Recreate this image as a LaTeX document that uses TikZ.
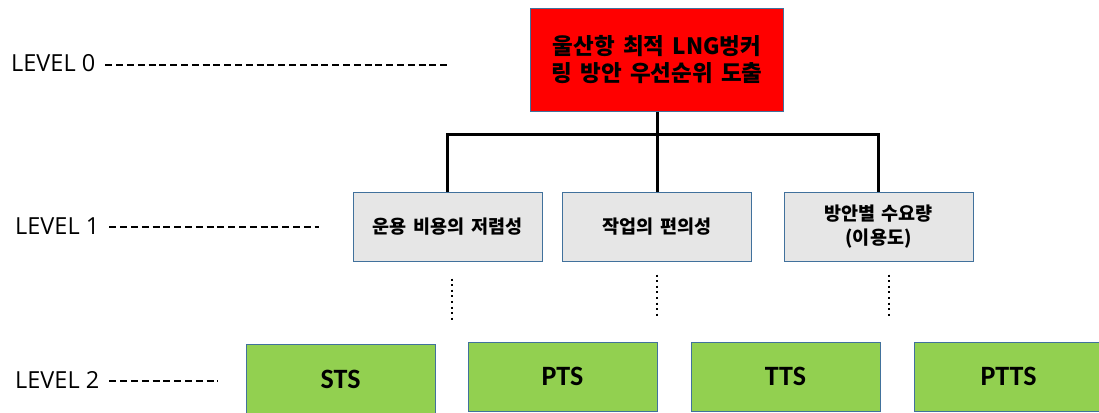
\documentclass[tikz,border=0pt]{standalone}
\usepackage{fontspec}
\setmainfont{Open Sans}
\newfontfamily\kr{Noto Sans CJK KR}[WordSpace=1.6]
\newfontfamily\carl{Carlito}
\definecolor{bordc}{RGB}{65,113,156}
\definecolor{critgray}{RGB}{230,230,230}
\definecolor{altgreen}{RGB}{146,208,80}
\begin{document}
\begin{tikzpicture}[x=1pt,y=-1pt,
 box/.style={draw=bordc, line width=1pt, inner sep=0pt, align=center},
 topbox/.style={box, fill=red, minimum width=253pt, minimum height=102pt, font=\kr\bfseries\fontsize{22.5}{27}\selectfont},
 critbox/.style={box, fill=critgray, minimum width=189pt, minimum height=69pt, font=\kr\bfseries\fontsize{18.5}{24}\selectfont},
 altbox/.style={box, fill=altgreen, minimum width=189pt, minimum height=69pt, font=\carl\bfseries\fontsize{28}{30}\selectfont},
 conn/.style={line width=3pt},
 dots/.style={line width=2pt, dash pattern=on 2pt off 3.6pt},
 lvl/.style={font=\fontsize{23.5}{26}\selectfont, inner sep=0pt, anchor=west},
 guide/.style={line width=1.1pt, dash pattern=on 7pt off 3.8pt}]
\useasboundingbox (0,0) rectangle (1099,412);

% level labels
\node[lvl] (l0) at (11,63.5) {LEVEL 0};
\node[lvl] (l1) at (15,226) {LEVEL 1};
\node[lvl] (l2) at (15,380) {LEVEL 2};
\coordinate (g0) at (447,65);
\coordinate (g1) at (319,227);
\coordinate (g2) at (218,381);
\draw[guide] ([xshift=10pt]l0.east |- g0) -- (g0);
\draw[guide] ([xshift=10pt]l1.east |- g1) -- (g1);
\draw[guide] ([xshift=10pt]l2.east |- g2) -- (g2);

% boxes
\node[topbox] (goal) at (657,60) {울산항 최적 LNG벙커\\링 방안 우선순위 도출};
\node[critbox] (c1) at (447.5,226.5) {운용 비용의 저렴성};
\node[critbox] (c2) at (657,226.5) {작업의 편의성};
\node[critbox] (c3) at (878.5,226.5) {방안별 수요량\\(이용도)};

\node[altbox] (a1) at (340.5,379) {STS};
\node[altbox] (a2) at (562.5,376.5) {PTS};
\node[altbox] (a3) at (785.5,376.5) {TTS};
\node[altbox] (a4) at (1008.5,376.5) {PTTS};

% connectors
\coordinate (bus) at (657,134);
\draw[conn] (goal.south) -- (bus);
\draw[conn] (c1.north) |- (c3.north |- bus) -- (c3.north);
\draw[conn] (bus) -- (c2.north);

% dotted links
\draw[dots] ([shift={(4.5,17)}]c1.south) -- ([shift={(4.5,61)}]c1.south);
\draw[dots] ([shift={(0,13)}]c2.south) -- ([shift={(0,56)}]c2.south);
\draw[dots] ([shift={(10.5,13)}]c3.south) -- ([shift={(10.5,56)}]c3.south);
\end{tikzpicture}
\end{document}
